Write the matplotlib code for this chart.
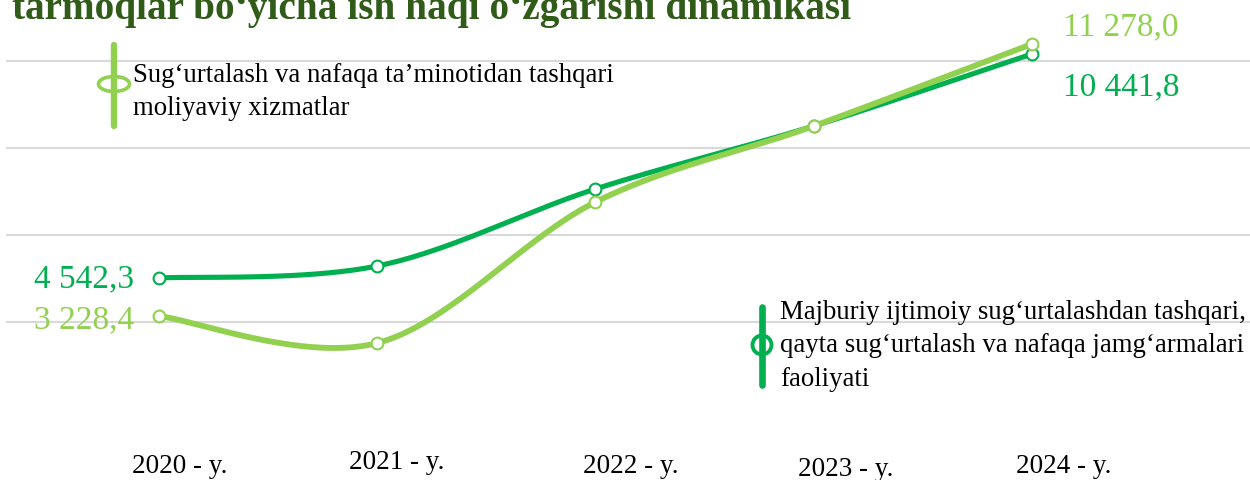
import numpy as np
import matplotlib
matplotlib.use("Agg")
import matplotlib.pyplot as plt
from matplotlib.lines import Line2D
from matplotlib.patches import Ellipse
import matplotlib.transforms as mtransforms

# data
years = ["2020 - y.", "2021 - y.", "2022 - y.", "2023 - y.", "2024 - y."]
majburiy = [4542.3, 4858.0, 6887.0, 8546.0, 10441.8]      # dark green
sugurta = [3228.4, 2429.0, 6602.0, 8851.0, 11278.0]        # light green
title = "tarmoqlar bo‘yicha ish haqi o‘zgarishi dinamikasi"
legend_dark = "Majburiy ijtimoiy sug‘urtalashdan tashqari,\nqayta sug‘urtalash va nafaqa jamg‘armalari\nfaoliyati"
legend_light = "Sug‘urtalash va nafaqa ta’minotidan tashqari\nmoliyaviy xizmatlar"

DARK = "#00B050"
LIGHT = "#92D050"
TITLE_C = "#315B18"
SERIF = ["Liberation Serif", "DejaVu Serif"]

W, H = 1250, 481


def fx(px):
    return px / W


def fy(py):
    return 1 - py / H


def fmt(v):
    return f"{v:,.1f}".replace(",", " ").replace(".", ",")


def smooth(xs, ys, n=40):
    # excel-like smoothed line (bezier, tension 1/6)
    pts = np.column_stack([xs, ys]).astype(float)
    ext = np.vstack([pts[0], pts, pts[-1]])
    t = np.linspace(0, 1, n)[:, None]
    out = []
    for i in range(len(pts) - 1):
        p0, p1, p2, p3 = ext[i], ext[i + 1], ext[i + 2], ext[i + 3]
        c1 = p1 + (p2 - p0) / 6
        c2 = p2 - (p3 - p1) / 6
        seg = (1 - t) ** 3 * p1 + 3 * (1 - t) ** 2 * t * c1 + 3 * (1 - t) * t ** 2 * c2 + t ** 3 * p2
        out.append(seg if i == 0 else seg[1:])
    return np.vstack(out)


fig = plt.figure(figsize=(W / 100, H / 100), dpi=100)
ax = fig.add_axes([fx(6), 0, 1 - fx(6), 1])
ax2 = ax.twinx()

x = np.arange(len(years))
for a in (ax, ax2):
    a.set_xlim(-0.701, 4.999)
    for s in a.spines.values():
        s.set_visible(False)
    a.set_xticks([])
    a.set_yticks([])
ax.set_ylim(-778, 11890)
ax2.set_ylim(-1625, 12610)

# gridlines
lo, hi = ax.get_ylim()
grid_fracs = np.array([62, 149, 236, 323]) / H
for f in grid_fracs:
    ax.axhline(hi - f * (hi - lo), color="#D9D9D9", lw=1.5, zorder=0)

sx, sy = smooth(x, majburiy).T
ax.plot(sx, sy, color=DARK, lw=3.7, solid_capstyle="round", zorder=2)
ax.plot(x, majburiy, "o", ms=8.5, mfc="white", mec=DARK, mew=1.5, zorder=3)

lx, ly = smooth(x, sugurta).T
ax2.plot(lx, ly, color=LIGHT, lw=4.2, solid_capstyle="round", zorder=2)
ax2.plot(x, sugurta, "o", ms=8.5, mfc="white", mec=LIGHT, mew=1.5, zorder=3)

# data labels at first and last points
lab = dict(fontsize=24, family=SERIF, textcoords="offset pixels")
ax.annotate(fmt(majburiy[0]), (x[0], majburiy[0]), xytext=(-25, 0),
            ha="right", va="center", color=DARK, **lab)
ax.annotate(fmt(majburiy[-1]), (x[-1], majburiy[-1]), xytext=(31, -32),
            ha="left", va="center", color=DARK, **lab)
ax2.annotate(fmt(sugurta[0]), (x[0], sugurta[0]), xytext=(-25, -3),
             ha="right", va="center", color=LIGHT, **lab)
ax2.annotate(fmt(sugurta[-1]), (x[-1], sugurta[-1]), xytext=(31, 18),
             ha="left", va="center", color=LIGHT, **lab)

# category labels (placed by hand in the original, uneven heights)
nudge_x = [21, 19, 35, 32, 32]
label_y = [467, 463, 467, 470, 467]
trans = mtransforms.blended_transform_factory(ax.transData, fig.transFigure)
for i, name in enumerate(years):
    ax.annotate(name, (x[i], fy(label_y[i])), xycoords=trans,
                xytext=(nudge_x[i], 0), textcoords="offset pixels",
                ha="center", va="center", fontsize=19.5, family=SERIF)

# title (cut off at the top like the source)
fig.text(fx(12), fy(19), title, ha="left", va="baseline", fontsize=28.3,
         fontweight="bold", family=SERIF, color=TITLE_C)

# legend markers
fig.add_artist(Line2D([fx(114), fx(114)], [fy(46), fy(127)], transform=fig.transFigure,
                      color=LIGHT, lw=4.6, solid_capstyle="round"))
fig.add_artist(Ellipse((fx(114), fy(85)), 31 / W, 15 / H, transform=fig.transFigure,
                       facecolor="white", edgecolor=LIGHT, lw=2.6))
fig.text(fx(133), fy(92), legend_light, ha="left", va="center", fontsize=19.3,
         family=SERIF, linespacing=1.42)

fig.add_artist(Line2D([fx(762), fx(762)], [fy(308), fy(386)], transform=fig.transFigure,
                      color=DARK, lw=4.8, solid_capstyle="round"))
fig.add_artist(Ellipse((fx(762), fy(346)), 19 / W, 19 / H, transform=fig.transFigure,
                       facecolor="white", edgecolor=DARK, lw=2.8))
fig.text(fx(780), fy(346), legend_dark, ha="left", va="center", fontsize=19.3,
         family=SERIF, linespacing=1.45)

fig.savefig("out.png", dpi=100, facecolor="white")
